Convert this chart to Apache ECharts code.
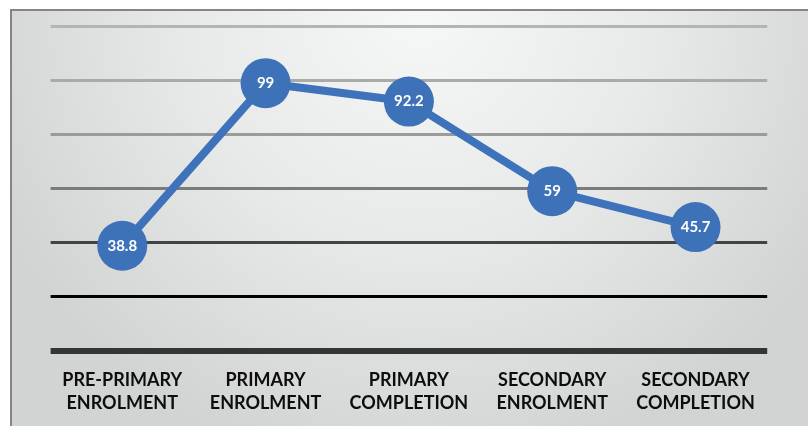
<!DOCTYPE html>
<html>
<head>
<meta charset="utf-8">
<script src="https://cdn.jsdelivr.net/npm/echarts@6/dist/echarts.min.js"></script>
<style>
html,body{margin:0;padding:0;background:#ffffff;}
#chart{width:808px;height:426px;}
</style>
</head>
<body>
<div id="chart"></div>
<script>
var categories = ['PRE-PRIMARY\nENROLMENT', 'PRIMARY\nENROLMENT', 'PRIMARY\nCOMPLETION', 'SECONDARY\nENROLMENT', 'SECONDARY\nCOMPLETION'];
var values = [38.8, 99, 92.2, 59, 45.7];
var gridColors = ['rgba(0,0,0,0)', '#000000', '#414345', '#7a7b7b', '#9a9b9b', '#a9aaa9', '#b3b5b3'];

var chart = echarts.init(document.getElementById('chart'), null, {renderer: 'canvas'});
chart.setOption({
  animation: false,
  backgroundColor: '#ffffff',
  graphic: [
    {
      type: 'rect', z: -10, silent: true,
      shape: {x: 11, y: 10, width: 820, height: 440},
      style: {
        fill: new echarts.graphic.RadialGradient(0.5, 0, 1.05, [
          {offset: 0, color: '#f6f7f7'},
          {offset: 0.5, color: '#e8e9e9'},
          {offset: 1, color: '#d2d3d3'}
        ]),
        stroke: '#858585', lineWidth: 2
      }
    }
  ],
  grid: {left: 50.6, right: 40.8, top: 26.5, bottom: 75.5, containLabel: false},
  xAxis: {
    type: 'category',
    data: categories,
    boundaryGap: true,
    axisLine: {show: true, lineStyle: {color: '#333638', width: 6, cap: 'butt'}},
    axisTick: {show: false},
    axisLabel: {
      interval: 0,
      margin: 18,
      color: '#0d0d0d',
      fontFamily: 'Lato',
      fontWeight: 'bold',
      fontSize: 18,
      lineHeight: 23
    },
    splitLine: {show: false}
  },
  yAxis: {
    type: 'value',
    min: 0, max: 120, interval: 20,
    axisLine: {show: false},
    axisTick: {show: false},
    axisLabel: {show: false},
    splitLine: {show: true, lineStyle: {color: gridColors, width: 3, cap: 'butt'}}
  },
  series: [{
    type: 'line',
    data: values,
    symbol: 'circle',
    symbolSize: 50,
    lineStyle: {color: '#3e72ba', width: 8},
    itemStyle: {color: '#3d71b8'},
    label: {
      show: true,
      position: 'inside',
      color: '#ffffff',
      fontFamily: 'Lato',
      fontWeight: 'bold',
      fontSize: 15
    },
    z: 5
  }]
});
</script>
</body>
</html>
